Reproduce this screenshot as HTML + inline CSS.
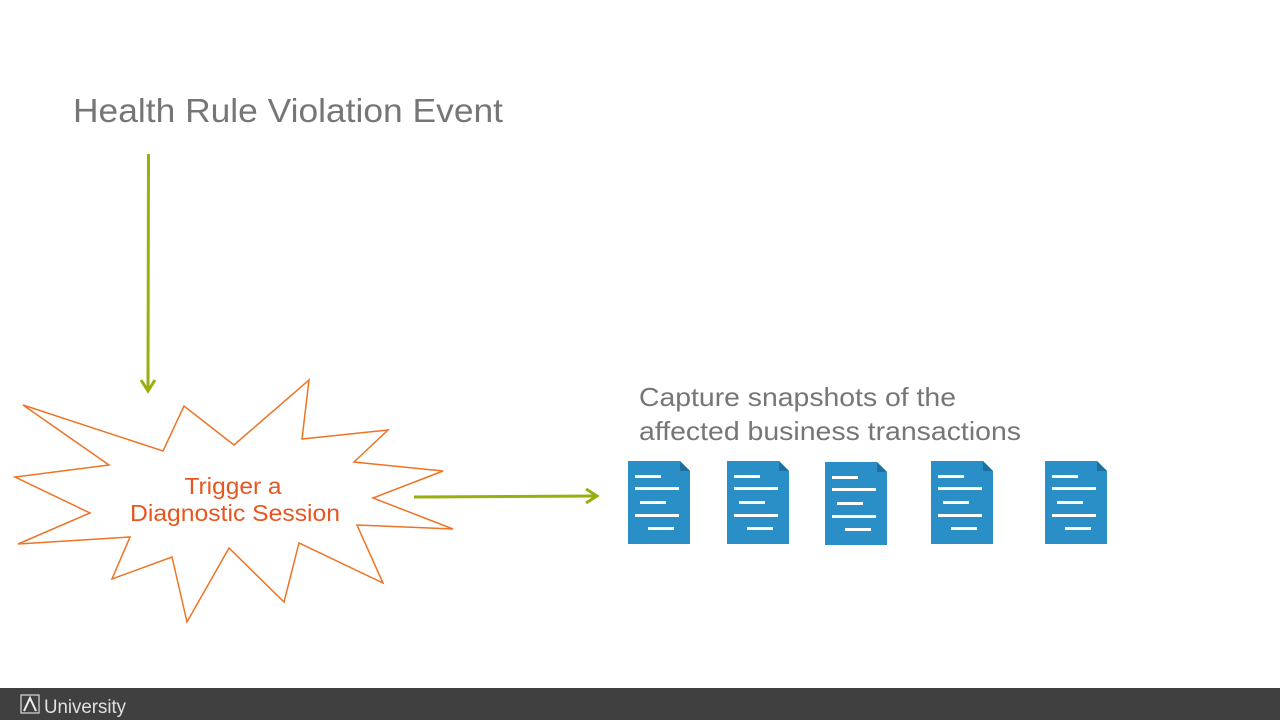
<!DOCTYPE html>
<html><head><meta charset="utf-8"><style>
html,body{margin:0;padding:0;width:1280px;height:720px;overflow:hidden;background:#fff}
svg{display:block}
</style></head><body>
<svg width="1280" height="720" viewBox="0 0 1280 720" xmlns="http://www.w3.org/2000/svg" font-family="Liberation Sans, Arial, sans-serif">
<rect width="1280" height="720" fill="#fff"/>
<text x="73" y="122" font-size="33" fill="#767676" textLength="430" lengthAdjust="spacingAndGlyphs">Health Rule Violation Event</text>
<line x1="148.5" y1="154" x2="148" y2="390" stroke="#9aae0e" stroke-width="3"/>
<polyline points="141,380 148,391 155,380" fill="none" stroke="#9aae0e" stroke-width="3"/>
<polygon points="23,405 163,451 184,406 234,445 309,380 302,439 388,430 354,462 443,471 373,498 453,529 357,525 383,583 299,543 284,602 229,548 187,622 172,557 112,579 130,537 18,544 90,513 15,477 109,465" fill="#fff" stroke="#ee7324" stroke-width="1.5" stroke-linejoin="miter"/>
<text x="233" y="494" font-size="23" fill="#e8561f" text-anchor="middle" textLength="97" lengthAdjust="spacingAndGlyphs">Trigger a</text>
<text x="235" y="521" font-size="23" fill="#e8561f" text-anchor="middle" textLength="210" lengthAdjust="spacingAndGlyphs">Diagnostic Session</text>
<line x1="414" y1="497" x2="596" y2="496" stroke="#9aae0e" stroke-width="3"/>
<polyline points="586,489 597,496 586,503" fill="none" stroke="#9aae0e" stroke-width="3"/>
<text x="639" y="406" font-size="26" fill="#767676" textLength="317" lengthAdjust="spacingAndGlyphs">Capture snapshots of the</text>
<text x="639" y="440" font-size="26" fill="#767676" textLength="382" lengthAdjust="spacingAndGlyphs">affected business transactions</text>
<defs>
<g id="doc">
<path d="M0,0 H52 L62,10 V83 H0 Z" fill="#2a8fc6"/>
<path d="M52,0 L62,10 H52 Z" fill="#1d6f9e"/>
<rect x="7" y="14" width="26" height="3" fill="#fff"/>
<rect x="7" y="26" width="44" height="3" fill="#fff"/>
<rect x="12" y="40" width="26" height="3" fill="#fff"/>
<rect x="7" y="53" width="44" height="3" fill="#fff"/>
<rect x="20" y="66" width="26" height="3" fill="#fff"/>
</g>
</defs>
<use href="#doc" x="628" y="461"/>
<use href="#doc" x="727" y="461"/>
<use href="#doc" x="825" y="462"/>
<use href="#doc" x="931" y="461"/>
<use href="#doc" x="1045" y="461"/>
<rect x="0" y="688" width="1280" height="32" fill="#404040"/>
<rect x="21" y="695" width="18" height="18" fill="none" stroke="#ddd" stroke-width="1.2"/>
<polyline points="24,711 30,698 36,711" fill="none" stroke="#eee" stroke-width="2"/>
<text x="44" y="713" font-size="19" fill="#e0e0e0" textLength="82" lengthAdjust="spacingAndGlyphs">University</text>
</svg>
</body></html>
